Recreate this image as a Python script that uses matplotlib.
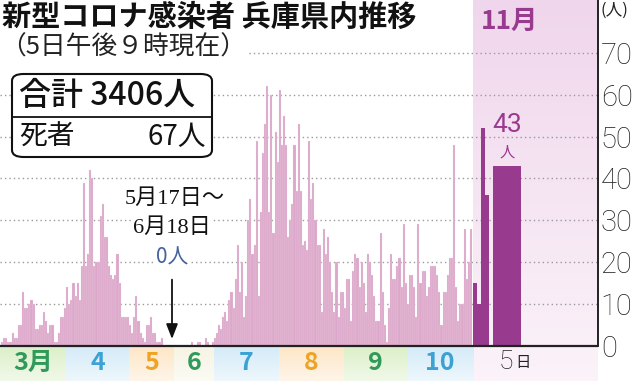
import matplotlib
matplotlib.use("Agg")
import matplotlib.pyplot as plt
import numpy as np
from matplotlib.patches import FancyBboxPatch
from matplotlib.lines import Line2D
import datetime as dt

plt.rcParams['font.family'] = ['Noto Sans CJK JP', 'DejaVu Sans']

# ---------------- data (daily new cases, Hyogo) ----------------
mar_cases = [1, 2, 2, 1, 1, 3, 2, 2, 5, 5, 13, 9, 9, 10, 11, 10, 4, 4, 5, 5,
             8, 6, 3, 5, 5, 1, 1, 3, 7, 7, 9]
apr_cases = [14, 10, 11, 15, 12, 15, 11, 19, 39, 19, 22, 42, 40, 19, 20, 20, 31,
             34, 26, 26, 19, 17, 16, 17, 22, 15, 7, 7, 7, 7]
may_cases = [5, 3, 7, 12, 6, 3, 2, 1, 5, 5, 7, 3, 3, 1, 1, 2] + [0] * 15
jun_cases = [0] * 18 + [0, 1, 0, 0, 1, 1, 0, 0, 2, 1, 0, 1]
jul_cases = [2, 3, 5, 4, 7, 8, 6, 11, 13, 9, 16, 24, 13, 20, 7, 12, 30, 35, 22,
             24, 49, 12, 32, 46, 53, 62, 32, 60, 27, 51, 44]
aug_cases = [61, 48, 55, 48, 26, 30, 34, 48, 37, 53, 37, 24, 25, 23, 49, 35, 39,
             30, 24, 24, 8, 28, 22, 26, 20, 13, 8, 20, 7, 13, 13]
sep_cases = [9, 16, 16, 6, 18, 22, 21, 14, 20, 15, 8, 22, 20, 17, 12, 6, 6, 27,
             13, 5, 1, 9, 22, 16, 16, 19, 21, 14, 29, 15]
oct_cases = [10, 17, 17, 14, 7, 29, 15, 18, 18, 12, 14, 19, 19, 19, 17, 13, 5,
             13, 13, 17, 21, 21, 48, 14, 6, 10, 10, 28, 16, 20, 28]
nov_cases = [15, 10, 52, 36, 43]

month_labels = ["3月", "4", "5", "6", "7", "8", "9", "10"]
zero_period = (dt.date(2020, 5, 17), dt.date(2020, 6, 18))
total_text = "合計 3406人"
death_label, death_value = "死者", "67人"
y_ticks = [0, 10, 20, 30, 40, 50, 60, 70]

# ---------------- layout ----------------
W, H, DPI = 6.39, 3.81, 100
DAY_W = 2.1          # normal day width (pixel units)
ZERO_W = 0.78        # compressed width for the zero period
X_START = 1.0
NOV_X0, NOV_DAY_W = 473.3, 4.0
NOV5_X0, NOV5_W = 493.3, 27.4
X_SPINE = 598.0
PX_PER_CASE = 4.19
BASE_PX = 346.0      # baseline from top, pixels

pink = '#dca7ca'
purple = '#983b8f'
grid_col = '#9a9a9a'
light_num = dict(family=['Roboto', 'Noto Sans CJK JP'], fontweight='light')

months = [mar_cases, apr_cases, may_cases, jun_cases, jul_cases, aug_cases,
          sep_cases, oct_cases]
days = []
for mi, vals in enumerate(months):
    for d, v in enumerate(vals):
        days.append((dt.date(2020, 3 + mi, d + 1), v))

xs, ws, vs = [], [], []
month_start = {}
x = X_START
for date, v in days:
    w = ZERO_W if zero_period[0] <= date <= zero_period[1] else DAY_W
    if date.day == 1:
        month_start[date.month] = x
    xs.append(x)
    ws.append(w)
    vs.append(v)
    x += w
month_start[11] = NOV_X0
month_start[3] = 0.0

fig = plt.figure(figsize=(W, H), dpi=DPI)
ax = fig.add_axes([0, 0, X_SPINE / (W * DPI), 1])
y_top = BASE_PX / PX_PER_CASE
y_bot = -(H * DPI - BASE_PX) / PX_PER_CASE

# November background (gradient)
grad = np.linspace(0, 1, 100)[:, None]
c_top = np.array([240, 214, 236]) / 255
c_bot = np.array([251, 243, 249]) / 255
img = c_top[None, None, :] * (1 - grad[:, :, None]) + c_bot[None, None, :] * grad[:, :, None]
ax.imshow(img, extent=(NOV_X0, X_SPINE, y_bot, y_top), aspect='auto',
          origin='upper', zorder=0)

# month bands below the axis
band_cols = {3: '#dcefc8', 4: '#d4ebf8', 5: '#fde6c6', 6: '#f6f4e4',
             7: '#d4ebf8', 8: '#fde6c6', 9: '#dcefc8', 10: '#d4ebf8'}
lab_cols = {3: '#2f9a5b', 4: '#3ba2d3', 5: '#eea324', 6: '#2f9a5b',
            7: '#3ba2d3', 8: '#eea324', 9: '#2f9a5b', 10: '#3ba2d3'}
for m in range(3, 11):
    x0 = month_start[m]
    x1 = month_start[m + 1]
    base = np.array(matplotlib.colors.to_rgb(band_cols[m]))
    g = np.linspace(0, 1, 50)[:, None, None]
    bimg = base[None, None, :] * (1 - 0.6 * g) + np.ones(3)[None, None, :] * 0.6 * g
    ax.imshow(bimg, extent=(x0, x1, y_bot, 0), aspect='auto', origin='upper', zorder=0)
    ax.text((x0 + x1) / 2, y_bot * 0.48, month_labels[m - 3], color=lab_cols[m],
            fontsize=18, fontweight='bold', ha='center', va='center', zorder=5)
ax.set_xlim(0, X_SPINE)
ax.set_ylim(y_bot, y_top)

# gridlines
for t in y_ticks[1:]:
    ax.plot([0, X_SPINE], [t, t], linestyle=(0, (1, 2.2)), color=grid_col,
            lw=1.0, zorder=1)

# bars
ax.bar(xs, vs, width=ws, align='edge', color=pink, edgecolor='#f3e3ee',
       linewidth=0.15, zorder=2)
nov_x = [NOV_X0 + i * NOV_DAY_W for i in range(4)] + [NOV5_X0]
nov_w = [NOV_DAY_W] * 4 + [NOV5_W]
ax.bar(nov_x, nov_cases, width=nov_w, align='edge', color=purple, linewidth=0, zorder=3)

# baseline and right spine
ax.plot([0, X_SPINE], [0, 0], color='#222222', lw=1.6, zorder=6, solid_capstyle='butt')
for s in ['left', 'top', 'bottom']:
    ax.spines[s].set_visible(False)
ax.spines['right'].set_bounds(0, y_top)
ax.spines['right'].set_linewidth(1.4)
ax.spines['right'].set_color('#222222')
ax.set_xticks([])
ax.yaxis.tick_right()
ax.set_yticks(y_ticks)
ax.set_yticklabels([str(t) for t in y_ticks], fontsize=21, color='#222222',
                   **light_num)
ax.tick_params(axis='y', length=0, pad=2)
ax.text(1.005, y_top - 2.5, "(人)", transform=ax.get_yaxis_transform(),
        fontsize=12, ha='left', va='center', color='#222222', clip_on=False)

# November labels
ax.text((NOV_X0 + X_SPINE) / 2 - 26, 77.5, "11月", color=purple, fontsize=19,
        fontweight='bold', ha='center', va='center')
nx = NOV5_X0 + NOV5_W / 2
ax.text(nx, nov_cases[4] + 9.8, str(nov_cases[4]), color=purple, fontsize=19,
        ha='center', va='center', family=['Roboto', 'Noto Sans CJK JP'])
ax.text(nx, nov_cases[4] + 3.3, "人", color=purple, fontsize=11,
        ha='center', va='center')
ax.text(nx - 1, y_bot * 0.45, "5", fontsize=19, ha='center', va='center',
        color='#222222', **light_num)
ax.text(nx + 8, y_bot * 0.48, "日", fontsize=11, ha='left', va='center',
        color='#222222')

# zero period annotation
zx = 172
serif = ['Liberation Serif', 'Noto Sans CJK JP']
ax.text(zx + 3, 35.0, "5月17日～", family=serif, fontsize=16, ha='center',
        va='center', color='#111111', zorder=7,
        bbox=dict(facecolor='white', edgecolor='none', pad=0.3))
ax.text(zx, 28.2, "6月18日", family=serif, fontsize=16, ha='center',
        va='center', color='#111111', zorder=7,
        bbox=dict(facecolor='white', edgecolor='none', pad=0.3))
ax.text(zx, 21.0, "0人", fontsize=15, ha='center', va='center',
        color='#47629e', zorder=7,
        bbox=dict(facecolor='white', edgecolor='none', pad=0.3))
ax.annotate("", xy=(zx, 1.0), xytext=(zx, 16.5),
            arrowprops=dict(arrowstyle='-|>,head_length=0.9,head_width=0.35',
                            color='#111111', lw=1.3), zorder=7)

# titles
fig.text(2 / 639, 1 - 17 / 381, "新型コロナ感染者 兵庫県内推移", fontsize=21,
         fontweight='bold', ha='left', va='center', color='#111111')
fig.text(0.5 / 639, 1 - 48 / 381, "（5日午後９時現在）", fontsize=18.5,
         ha='left', va='center', color='#222222',
         bbox=dict(facecolor='white', edgecolor='none', pad=1))

# summary box
bx0, bx1 = 12, 212
by0, by1 = 74, 157
box = FancyBboxPatch((bx0 / 639, 1 - by1 / 381), (bx1 - bx0) / 639,
                     (by1 - by0) / 381, boxstyle="round,pad=0,rounding_size=0.018",
                     transform=fig.transFigure, facecolor='white',
                     edgecolor='#111111', lw=1.5, zorder=10)
fig.patches.append(box)
fig.add_artist(Line2D([bx0 / 639, bx1 / 639], [1 - 117 / 381, 1 - 117 / 381],
                      color='#111111', lw=1.3, zorder=11))
fig.text(19 / 639, 1 - 96 / 381, total_text, fontsize=23, fontweight='medium',
         ha='left', va='center', color='#111111', zorder=12)
fig.text(19 / 639, 1 - 137 / 381, death_label, fontsize=20,
         ha='left', va='center', color='#111111', zorder=12)
fig.text(206 / 639, 1 - 137 / 381, death_value, fontsize=20,
         ha='right', va='center', color='#111111', zorder=12)

fig.savefig("out.png", dpi=DPI)
